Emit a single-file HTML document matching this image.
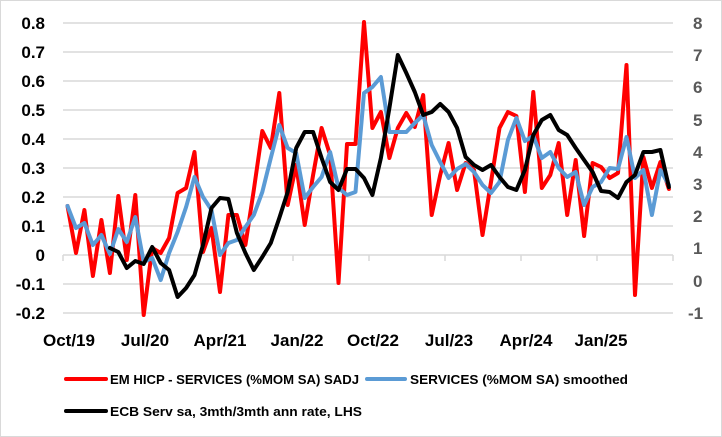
<!DOCTYPE html>
<html><head><meta charset="utf-8"><style>
html,body{margin:0;padding:0;background:#fff;}
svg{display:block;}
text{font-family:"Liberation Sans",sans-serif;font-weight:bold;}
</style></head><body>
<svg width="722" height="437" viewBox="0 0 722 437" xmlns="http://www.w3.org/2000/svg">
<rect x="0.5" y="0.5" width="721" height="436" fill="#fff" stroke="#d9d9d9"/>
<g stroke="#d9d9d9" stroke-width="1.5">
<line x1="63" y1="23" x2="673" y2="23"/><line x1="63" y1="52" x2="673" y2="52"/><line x1="63" y1="81" x2="673" y2="81"/><line x1="63" y1="110" x2="673" y2="110"/><line x1="63" y1="139" x2="673" y2="139"/><line x1="63" y1="168" x2="673" y2="168"/><line x1="63" y1="197" x2="673" y2="197"/><line x1="63" y1="226" x2="673" y2="226"/><line x1="63" y1="255" x2="673" y2="255"/><line x1="63" y1="284" x2="673" y2="284"/><line x1="63" y1="313" x2="673" y2="313"/>
<line x1="63" y1="255" x2="63" y2="261"/><line x1="139" y1="255" x2="139" y2="261"/><line x1="216" y1="255" x2="216" y2="261"/><line x1="293" y1="255" x2="293" y2="261"/><line x1="369" y1="255" x2="369" y2="261"/><line x1="445" y1="255" x2="445" y2="261"/><line x1="521" y1="255" x2="521" y2="261"/><line x1="597" y1="255" x2="597" y2="261"/><line x1="673" y1="255" x2="673" y2="261"/>
</g>
<g font-size="17" fill="#000" text-anchor="end">
<text x="45" y="29">0.8</text><text x="45" y="58">0.7</text><text x="45" y="87">0.6</text><text x="45" y="116">0.5</text><text x="45" y="145">0.4</text><text x="45" y="174">0.3</text><text x="45" y="203">0.2</text><text x="45" y="232">0.1</text><text x="45" y="261">0</text><text x="45" y="290">-0.1</text><text x="45" y="319">-0.2</text>
</g>
<g font-size="17" fill="#595959" text-anchor="start">
<text x="693" y="29">8</text><text x="693" y="61">7</text><text x="693" y="93">6</text><text x="693" y="126">5</text><text x="693" y="158">4</text><text x="693" y="190">3</text><text x="693" y="222">2</text><text x="693" y="254">1</text><text x="693" y="287">0</text><text x="688" y="319">-1</text>
</g>
<g font-size="17" fill="#000" text-anchor="middle">
<text x="69" y="346">Oct/19</text><text x="145" y="346">Jul/20</text><text x="220" y="346">Apr/21</text><text x="297" y="346">Jan/22</text><text x="373" y="346">Oct/22</text><text x="449" y="346">Jul/23</text><text x="526" y="346">Apr/24</text><text x="601" y="346">Jan/25</text>
</g>
<g fill="none" stroke-width="4" stroke-linejoin="round" stroke-linecap="round">
<polyline stroke="#ff0000" points="67.5,206 76,253 84.4,210 92.9,276 101.4,220 109.9,273 118.3,196 126.8,260 135.3,195 143.7,315 152.2,248 160.7,253 169.1,238 177.6,193 186.1,188 194.5,152 203,252 211.5,228 220,292 228.4,215 236.9,215 245.4,245 253.8,190 262.3,131 270.8,148 279.3,93 287.7,205 296.2,165 304.7,225 313.1,175 321.6,128 330.1,155 338.5,283 347,144 355.5,144 364,22 372.4,128 380.9,112 389.4,158 397.8,128 406.3,113 414.8,127 423.2,95 431.7,215 440.2,175 448.6,143 457.1,190 465.6,163 474,170 482.5,235 491,182 499.5,128 507.9,112 516.4,116 524.9,192 533.3,92 541.8,188 550.3,175 558.7,143 567.2,215 575.7,160 584.1,236 592.6,163 601.1,167 609.6,178 618,173 626.5,65 635,295 643.4,157 651.9,188 660.4,162 668.9,189"/>
<polyline stroke="#5b9bd5" points="67.5,206 76,228 84.4,223 92.9,245 101.4,235 109.9,254 118.3,229 126.8,242 135.3,217 143.7,262 152.2,258 160.7,280 169.1,253 177.6,232 186.1,207 194.5,177 203,197 211.5,210 220,255 228.4,243 236.9,240 245.4,227 253.8,215 262.3,192 270.8,158 279.3,125 287.7,148 296.2,153 304.7,198 313.1,187 321.6,177 330.1,152 338.5,188 347,195 355.5,192 364,93 372.4,87 380.9,77 389.4,132 397.8,132 406.3,132 414.8,123 423.2,115 431.7,145 440.2,162 448.6,178 457.1,169 465.6,164 474,172 482.5,185 491,193 499.5,182 507.9,140 516.4,118 524.9,141 533.3,136 541.8,158 550.3,152 558.7,168 567.2,177 575.7,172 584.1,205 592.6,187 601.1,182 609.6,168 618,169 626.5,137 635,178 643.4,170 651.9,215 660.4,170 668.9,185"/>
<polyline stroke="#000" points="109.9,248 118.3,252 126.8,268 135.3,261 143.7,264 152.2,247 160.7,263 169.1,270 177.6,297 186.1,288 194.5,275 203,245 211.5,208 220,198 228.4,199 236.9,233 245.4,253 253.8,270 262.3,257 270.8,243 279.3,218 287.7,192 296.2,148 304.7,132 313.1,132 321.6,158 330.1,182 338.5,190 347,169 355.5,169 364,178 372.4,195 380.9,158 389.4,108 397.8,55 406.3,73 414.8,92 423.2,115 431.7,112 440.2,104 448.6,112 457.1,128 465.6,157 474,165 482.5,170 491,165 499.5,177 507.9,187 516.4,190 524.9,170 533.3,135 541.8,120 550.3,115 558.7,130 567.2,135 575.7,148 584.1,160 592.6,172 601.1,191 609.6,192 618,198 626.5,182 635,175 643.4,152 651.9,152 660.4,150 668.9,187"/>
</g>
<g stroke-width="4" stroke-linecap="round">
<line x1="66" y1="379" x2="106" y2="379" stroke="#ff0000"/>
<line x1="367" y1="379" x2="405" y2="379" stroke="#5b9bd5"/>
<line x1="66" y1="411" x2="106" y2="411" stroke="#000"/>
</g>
<g font-size="13" fill="#000">
<text x="110" y="384" textLength="249" lengthAdjust="spacingAndGlyphs">EM HICP - SERVICES (%MOM SA) SADJ</text>
<text x="410" y="384" textLength="218" lengthAdjust="spacingAndGlyphs">SERVICES (%MOM SA) smoothed</text>
<text x="110" y="416" textLength="252" lengthAdjust="spacingAndGlyphs">ECB Serv sa, 3mth/3mth ann rate, LHS</text>
</g>
</svg>
</body></html>
